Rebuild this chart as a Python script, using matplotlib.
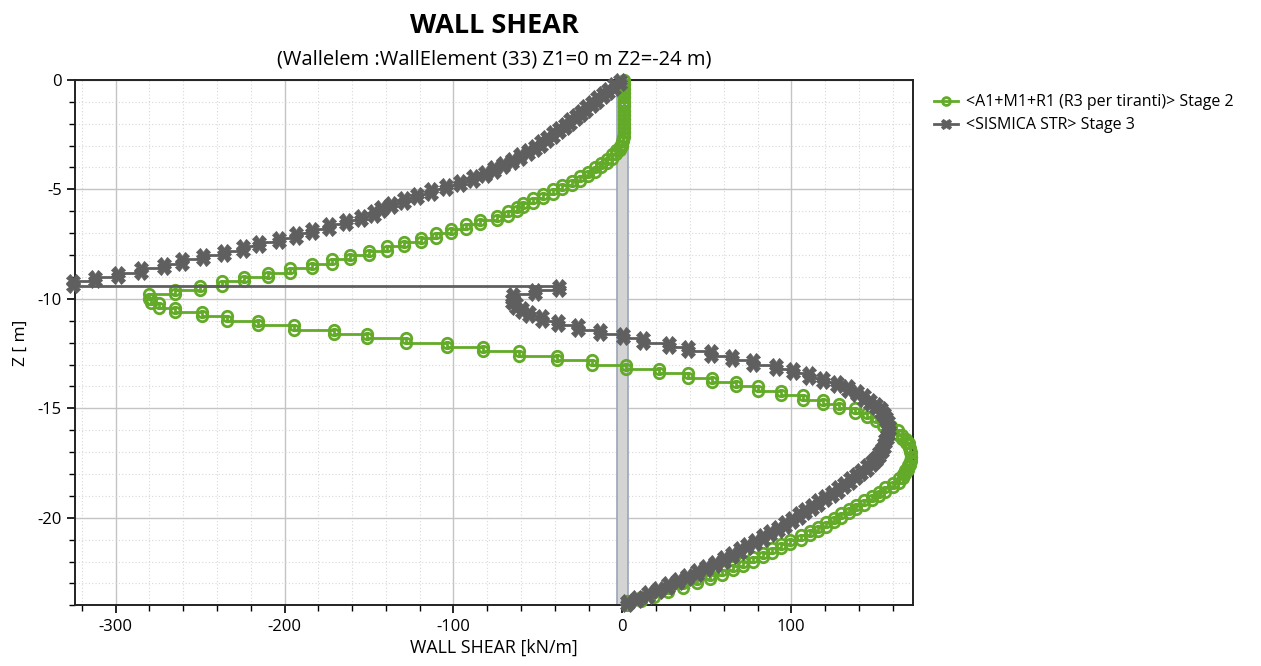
import numpy as np
import matplotlib

matplotlib.use("Agg")
import matplotlib.pyplot as plt
from matplotlib.ticker import MultipleLocator

plt.rcParams["font.family"] = ["Open Sans", "DejaVu Sans"]
plt.rcParams["axes.unicode_minus"] = False

# element boundaries every 0.2 m from 0 to -24 m
z_top = 0.0
z_bottom = -24.0
n_elem = 120

# shear per element (top -> bottom), kN/m
shear_stage2 = [
    1, 1, 1, 1, 1, 1, 1, 1, 1, 1,
    1, 1, 0.8, 0.3, -0.5, -1.5, -3.5, -6, -9, -12.5,
    -16.5, -20.5, -25, -30, -35.5, -41, -47, -53, -59, -62.5,
    -68, -74.5, -84, -92.5, -101.5, -110.5, -119, -129.5, -139.5, -150,
    -161.5, -172, -184, -197, -210, -224, -237, -250, -265, -280,
    -279, -274, -265, -249, -234, -215.5, -194.5, -171, -151, -128,
    -104, -82.5, -61, -39, -18, 2, 21.5, 38.6, 53, 67,
    80, 94, 107, 119, 128, 137.5, 145, 150, 154.5, 159,
    163, 165.5, 168, 169.5, 170.5, 171, 171, 170.4, 169, 167.5,
    166, 164, 160, 155.5, 152, 147.5, 143, 138.5, 134, 129.5,
    125, 120.5, 116, 111, 105.5, 99, 94, 88.5, 83, 77.5,
    71.5, 65.5, 59, 52, 44, 36, 27, 19, 11, 3,
]

shear_stage3 = [
    -1.5, -5, -8.3, -11.6, -14.9, -18.2, -21.4, -24.5, -27.6, -30.8,
    -34.2, -37.7, -41.1, -44.6, -48.2, -52, -56, -60.5, -65.3, -70.5,
    -75.8, -81.5, -88.5, -96, -104.5, -113, -121.3, -129.5, -137, -143,
    -147, -154.5, -163.5, -173.8, -184, -193, -203.5, -215, -224.5, -236,
    -248.5, -260.5, -271.5, -285, -298.5, -312, -325, -37.7, -51.5, -65,
    -65.5, -63, -59.3, -55, -47.5, -38, -26.5, -13, 0.5, 12,
    27.4, 39, 52.5, 65, 77.5, 91, 101, 110.2, 118.8, 127,
    133.5, 139, 143, 146.8, 150.3, 152.8, 155, 156.3, 157.2, 157.6,
    157.2, 156.5, 155.6, 154.6, 153.4, 151.8, 150.2, 148, 145, 141.5,
    138, 134.5, 131, 127.5, 124, 120, 116, 112, 108, 104.5,
    100.5, 96.5, 92, 87.5, 83, 78.5, 74, 69.5, 65, 60,
    55, 49.5, 44, 38.5, 33, 27, 21, 15, 8.5, 2.5,
]

labels = ["<A1+M1+R1 (R3 per tiranti)> Stage 2", "<SISMICA STR> Stage 3"]
wall_x = (-3, 3.5)

edges = np.linspace(z_top, z_bottom, n_elem + 1)


def staircase(values):
    # each element holds a constant value between its top and bottom edge
    xs = np.repeat(values, 2)
    zs = np.column_stack([edges[:-1], edges[1:]]).ravel()
    return xs, zs


GREEN = "#62aa28"
GRAY = "#5f5f5f"

fig = plt.figure(figsize=(12.61, 6.66), dpi=100)
ax = fig.add_axes([0.0595, 0.091, 0.6645, 0.789])

ax.axvspan(*wall_x, facecolor="#d4d4d4", edgecolor="#9aa6b8", lw=1.2, zorder=1)

x2, z2 = staircase(shear_stage2)
ax.plot(x2, z2, color=GREEN, lw=2.0, marker="o", ms=7.5, mfc="none",
        mec=GREEN, mew=2.0, label=labels[0], zorder=3, clip_on=False)
x3, z3 = staircase(shear_stage3)
ax.plot(x3, z3, color=GRAY, lw=2.0, marker="X", ms=10, mfc=GRAY,
        mec=GRAY, mew=0.6, label=labels[1], zorder=4, clip_on=False)

ax.set_xlim(-324, 172)
ax.set_ylim(-24, 0)
ax.xaxis.set_major_locator(MultipleLocator(100))
ax.xaxis.set_minor_locator(MultipleLocator(20))
ax.yaxis.set_major_locator(MultipleLocator(5))
ax.yaxis.set_minor_locator(MultipleLocator(1))
ax.grid(True, which="major", color="#c4c4c4", lw=1.0, zorder=0)
ax.grid(True, which="minor", color="#d8d8d8", lw=0.8, ls=(0, (1, 2)), zorder=0)
ax.set_axisbelow(True)
ax.tick_params(which="major", direction="out", length=6, width=1.2,
               labelsize=12, colors="black")
ax.tick_params(which="minor", direction="out", length=4, width=1.0)
for s in ax.spines.values():
    s.set_color("#222222")
    s.set_linewidth(1.4)

ax.set_xlabel("WALL SHEAR [kN/m]", fontsize=12.8, labelpad=3)
ax.set_ylabel("Z [ m]", fontsize=12.5, labelpad=6)

fig.text(0.392, 0.961, "WALL SHEAR", ha="center", va="center",
         fontsize=19.5, fontweight="bold")
fig.text(0.392, 0.911, "(Wallelem :WallElement (33) Z1=0 m Z2=-24 m)",
         ha="center", va="center", fontsize=14.5)

fig.legend(loc="upper left", bbox_to_anchor=(0.729, 0.88), frameon=False,
           fontsize=11.5, handlelength=1.55, handletextpad=0.45,
           labelspacing=0.45, markerscale=0.75)

fig.savefig("out.png", dpi=100)
